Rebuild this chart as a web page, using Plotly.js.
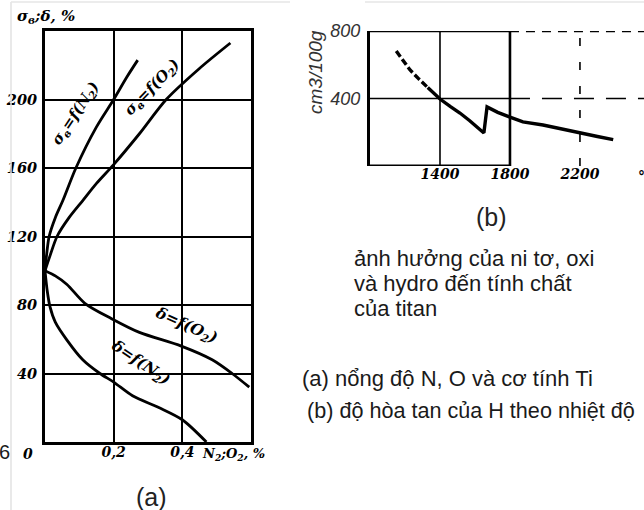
<!DOCTYPE html>
<html><head><meta charset="utf-8">
<script src="https://cdn.plot.ly/plotly-3.0.1.min.js"></script>
<style>html,body{margin:0;padding:0;background:#fff}</style>
</head><body><div id="chart" style="width:644px;height:510px"></div>
<script>
// ---- chart (a): mechanical properties vs N2 / O2 content ----
const sbN2_x = [0, 0.005, 0.012, 0.03, 0.052, 0.09, 0.15, 0.2, 0.238, 0.27];
const sbN2_y = [100, 110, 120, 131, 141, 160, 184, 200, 213, 223];
const sbO2_x = [0, 0.015, 0.035, 0.07, 0.11, 0.15, 0.2, 0.275, 0.353, 0.449, 0.54];
const sbO2_y = [100, 109, 120, 131, 141, 151, 162, 180, 200, 218, 233];
const dO2_x = [0, 0.03, 0.064, 0.116, 0.194, 0.275, 0.397, 0.487, 0.545, 0.595];
const dO2_y = [100, 97, 92, 81, 72, 64, 56, 48, 40, 32];
const dN2_x = [0, 0.006, 0.0145, 0.03, 0.064, 0.11, 0.16, 0.2, 0.255, 0.333, 0.4, 0.47];
const dN2_y = [100, 89, 79, 70, 59.5, 48, 40, 35, 27, 20, 13, 0];
const aXticks = [0.2, 0.4];
const aXlabels = ["0,2", "0,4"];
const aYticks = [40, 80, 120, 160, 200];
const aYlabels = ["40", "80", "120", "160", "200"];

// ---- chart (b): H solubility vs temperature ----
const hDash_x = [1150, 1190, 1229, 1280, 1330];
const hDash_y = [681, 620, 569, 515, 465];
const hSolid_x = [1330, 1400, 1460, 1514, 1570, 1611, 1651, 1669, 1730, 1800, 1874, 1989, 2100, 2189, 2300, 2390];
const hSolid_y = [465, 397, 352, 314, 268, 231, 196, 350, 318, 290, 261, 243, 218, 196, 175, 156];
const bXticks = [1400, 1800, 2200];
const bXlabels = ["1400", "1800", "2200"];
const bYticks = [400, 800];
const bYlabels = ["400", "800"];

const notes = ["ảnh hưởng của ni tơ, oxi", "và hydro đến tính chất", "của titan"];
const captions = ["(a) nổng độ N, O và cơ tính Ti", "(b) độ hòa tan của H theo nhiệt độ"];

const W = 644, H = 510;
const px = v => v / W, py = v => 1 - v / H;
const serif = (s) => ({family: "DejaVu Serif, Liberation Serif, serif", size: s, color: "#000", style: "italic", weight: 700});
const sans = (s, c) => ({family: "Liberation Sans, Arial, sans-serif", size: s, color: c || "#1a1a1a"});

const lineA = {color: "#000", width: 2.8, shape: "spline", smoothing: 0.8};
const traces = [
  {x: sbN2_x, y: sbN2_y, mode: "lines", line: lineA, xaxis: "x", yaxis: "y", hoverinfo: "skip"},
  {x: sbO2_x, y: sbO2_y, mode: "lines", line: lineA, xaxis: "x", yaxis: "y", hoverinfo: "skip"},
  {x: dO2_x, y: dO2_y, mode: "lines", line: lineA, xaxis: "x", yaxis: "y", hoverinfo: "skip"},
  {x: dN2_x, y: dN2_y, mode: "lines", line: lineA, xaxis: "x", yaxis: "y", hoverinfo: "skip"},
  {x: hDash_x, y: hDash_y, mode: "lines", line: {color: "#000", width: 3.4, dash: "7px,3px"}, xaxis: "x2", yaxis: "y2", hoverinfo: "skip"},
  {x: hSolid_x, y: hSolid_y, mode: "lines", line: {color: "#000", width: 3.4}, xaxis: "x2", yaxis: "y2", hoverinfo: "skip"}
];

const shapes = [];
// gray scan borders
shapes.push({type: "line", xref: "paper", yref: "paper", x0: px(11), x1: px(11), y0: 0, y1: py(2), line: {color: "#e2e2e2", width: 1.5}});
shapes.push({type: "line", xref: "paper", yref: "paper", x0: px(11), x1: px(290), y0: py(2), y1: py(2), line: {color: "#e6e6e6", width: 1.5}});
shapes.push({type: "line", xref: "paper", yref: "paper", x0: px(365), x1: 1, y0: py(2), y1: py(2), line: {color: "#e6e6e6", width: 1.5}});
// chart (b) frame and grid
const bx0 = 1000, bx1 = 2566, by0 = 0, by1 = 800;
shapes.push({type: "line", xref: "x2", yref: "y2", x0: bx0, x1: bXticks[1], y0: by0, y1: by0, line: {color: "#000", width: 3}});
shapes.push({type: "line", xref: "x2", yref: "y2", x0: bx0, x1: bXticks[1], y0: by1, y1: by1, line: {color: "#000", width: 2.5}});
shapes.push({type: "line", xref: "x2", yref: "y2", x0: bXticks[1], x1: bx1, y0: by1, y1: by1, line: {color: "#000", width: 2.5, dash: "9px,7px"}});
shapes.push({type: "line", xref: "x2", yref: "y2", x0: bXticks[0], x1: bXticks[0], y0: by0, y1: by1, line: {color: "#000", width: 1.6}});
shapes.push({type: "line", xref: "x2", yref: "y2", x0: bXticks[1], x1: bXticks[1], y0: by0, y1: by1, line: {color: "#000", width: 2.6}});
shapes.push({type: "line", xref: "x2", yref: "y2", x0: bXticks[2], x1: bXticks[2], y0: by0, y1: by1, line: {color: "#000", width: 1.6, dash: "8px,16px"}});
shapes.push({type: "line", xref: "x2", yref: "y2", x0: bx0, x1: bXticks[1], y0: bYticks[0], y1: bYticks[0], line: {color: "#000", width: 1.6}});
shapes.push({type: "line", xref: "x2", yref: "y2", x0: bXticks[1], x1: bx1, y0: bYticks[0], y1: bYticks[0], line: {color: "#000", width: 1.6, dash: "20px,12px"}});

const ann = [];
const A = (o) => ann.push(Object.assign({xref: "paper", yref: "paper", showarrow: false, xanchor: "center", yanchor: "middle"}, o));
A({x: px(46), y: py(17), text: "σ<sub>в</sub>;δ, %", font: serif(15)});
A({x: px(28), y: py(454), text: "0", font: serif(14)});
A({x: px(233), y: py(454), text: "N<sub>2</sub>;O<sub>2</sub>, %", font: serif(13)});
A({x: px(76), y: py(114), text: "σ<sub>в</sub>=f(N<sub>2</sub>)", textangle: -56, font: serif(15)});
A({x: px(152), y: py(87), text: "σ<sub>в</sub>=f(O<sub>2</sub>)", textangle: -46, font: serif(15)});
A({x: px(186), y: py(325), text: "δ=f(O<sub>2</sub>)", textangle: 24, font: serif(15.5)});
A({x: px(140), y: py(362), text: "δ=f(N<sub>2</sub>)", textangle: 34, font: serif(15.5)});
A({x: px(151), y: py(497), text: "(a)", font: sans(25, "#222")});
A({x: px(491), y: py(217), text: "(b)", font: sans(25, "#222")});
A({x: px(636), y: py(177), xanchor: "left", text: "°C", font: serif(14)});
A({x: px(-3), y: py(452), xanchor: "left", text: "6", font: sans(20)});
A({x: px(316), y: py(72), text: "cm3/100g", textangle: -90, font: {family: "Liberation Sans, Arial, sans-serif", size: 19, color: "#333", style: "italic"}});
notes.forEach((t, i) => A({x: px(352), y: py(258 + i * 25), xanchor: "left", text: t, font: sans(22)}));
captions.forEach((t, i) => A({x: px(i === 0 ? 300 : 305), y: py(378 + i * 32), xanchor: "left", text: t, font: sans(i === 0 ? 22 : 21.6)}));

const layout = {
  width: W, height: H, autosize: false,
  margin: {l: 0, r: 0, t: 0, b: 0, pad: 0},
  paper_bgcolor: "#fff", plot_bgcolor: "rgba(0,0,0,0)",
  showlegend: false,
  xaxis: {domain: [px(45), px(251)], range: [0, 0.6], anchor: "y",
    tickmode: "array", tickvals: aXticks, ticktext: aXlabels, ticks: "", ticklabelstandoff: -5,
    showgrid: true, gridcolor: "#000", gridwidth: 2, zeroline: false,
    showline: true, mirror: true, linecolor: "#000", linewidth: 3, tickfont: serif(14), fixedrange: true},
  yaxis: {domain: [py(442), py(31)], range: [0, 240], anchor: "x",
    tickmode: "array", tickvals: aYticks, ticktext: aYlabels, ticks: "", ticklabelstandoff: 2,
    showgrid: true, gridcolor: "#000", gridwidth: 2, zeroline: false,
    showline: true, mirror: true, linecolor: "#000", linewidth: 3, tickfont: serif(14.5), fixedrange: true},
  xaxis2: {domain: [px(370), 1], range: [bx0, bx1], anchor: "y2",
    tickmode: "array", tickvals: bXticks, ticktext: bXlabels, ticks: "", ticklabelstandoff: -2,
    showgrid: false, zeroline: false, showline: false, tickfont: serif(14), fixedrange: true},
  yaxis2: {domain: [py(166), py(31)], range: [by0, by1], anchor: "x2",
    tickmode: "array", tickvals: bYticks, ticktext: bYlabels, ticks: "", ticklabelstandoff: 3,
    showgrid: false, zeroline: false, showline: true, linecolor: "#000", linewidth: 3,
    tickfont: {family: "Liberation Sans, Arial, sans-serif", size: 18, color: "#333", style: "italic"}, fixedrange: true},
  shapes: shapes,
  annotations: ann
};
Plotly.newPlot("chart", traces, layout, {staticPlot: true, displayModeBar: false});
</script></body></html>
